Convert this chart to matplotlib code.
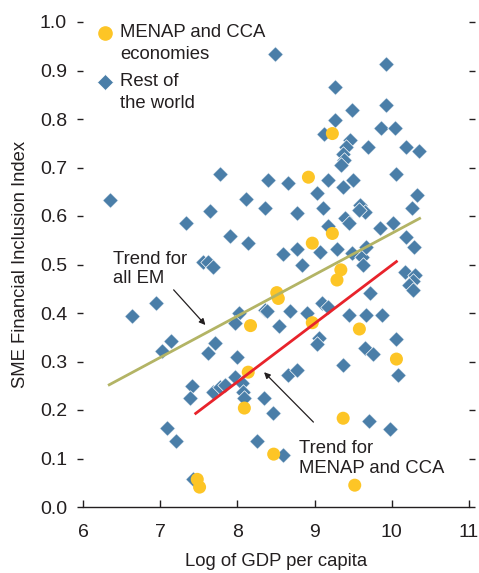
import matplotlib
matplotlib.use("Agg")
import matplotlib.pyplot as plt

# Rest of the world (log GDP per capita, SME financial inclusion index)
row_x = [8.49, 9.92, 9.26, 9.49, 9.92, 9.26, 9.12, 9.86, 10.04, 9.46,
         9.41, 9.37, 9.38, 9.34, 9.69, 10.18, 10.35, 7.77, 8.39, 8.66,
         9.18, 9.50, 9.37, 9.03, 10.06, 10.32, 6.35, 8.11, 7.65, 8.36,
         7.33, 7.90, 8.14, 7.56, 7.62, 7.69, 6.95, 6.64, 8.02, 7.97,
         8.36, 7.14, 7.02, 7.71, 7.62, 7.99, 8.77, 9.11, 9.59, 9.65,
         9.57, 10.26, 9.39, 9.44, 9.17, 9.85, 10.01, 10.19, 10.29, 8.59,
         8.77, 9.07, 9.29, 9.48, 9.61, 9.63, 9.67, 8.84, 10.17, 10.30,
         10.28, 10.22, 10.27, 9.72, 8.38, 8.68, 8.90, 9.09, 9.18, 9.44,
         9.67, 9.87, 8.54, 9.06, 9.03, 10.06, 9.65, 9.75, 9.37, 10.08,
         8.66, 8.77, 7.41, 7.39, 7.69, 7.77, 7.84, 7.97, 8.06, 8.07,
         8.09, 8.34, 8.46, 7.09, 7.21, 8.25, 7.42, 8.59, 9.70, 9.98]
row_y = [0.934, 0.913, 0.865, 0.818, 0.829, 0.797, 0.770, 0.781, 0.781, 0.757,
         0.742, 0.728, 0.715, 0.705, 0.743, 0.743, 0.733, 0.686, 0.674, 0.669,
         0.674, 0.675, 0.659, 0.647, 0.686, 0.643, 0.632, 0.636, 0.611, 0.616,
         0.585, 0.559, 0.544, 0.506, 0.506, 0.494, 0.421, 0.394, 0.401, 0.379,
         0.406, 0.342, 0.322, 0.338, 0.317, 0.310, 0.606, 0.616, 0.623, 0.609,
         0.612, 0.616, 0.595, 0.585, 0.579, 0.575, 0.585, 0.557, 0.537, 0.521,
         0.531, 0.526, 0.531, 0.523, 0.516, 0.499, 0.537, 0.499, 0.485, 0.478,
         0.465, 0.458, 0.447, 0.442, 0.405, 0.405, 0.399, 0.420, 0.413, 0.396,
         0.396, 0.396, 0.373, 0.348, 0.336, 0.346, 0.327, 0.315, 0.293, 0.272,
         0.272, 0.282, 0.249, 0.224, 0.238, 0.248, 0.252, 0.269, 0.255, 0.238,
         0.224, 0.224, 0.194, 0.162, 0.136, 0.136, 0.057, 0.107, 0.178, 0.161]

# MENAP and CCA economies
menap_x = [9.23, 8.92, 9.23, 8.97, 9.34, 9.29, 8.51, 8.53, 8.17, 8.97,
           9.58, 10.06, 8.14, 8.09, 9.37, 8.47, 7.48, 7.51, 9.52]
menap_y = [0.770, 0.680, 0.564, 0.544, 0.489, 0.468, 0.442, 0.430, 0.374, 0.380,
           0.367, 0.305, 0.278, 0.204, 0.183, 0.109, 0.057, 0.041, 0.045]

# trend line end points
trend_em_x = [6.34, 10.36]
trend_em_y = [0.252, 0.595]
trend_menap_x = [7.46, 10.06]
trend_menap_y = [0.193, 0.506]

blue = "#4a7ea8"
yellow = "#fdc526"
olive = "#b3b465"
red = "#e8232b"
ink = "#231f20"

plt.rcParams["font.family"] = ["Liberation Sans", "DejaVu Sans"]
plt.rcParams["font.size"] = 13.3

fig = plt.figure(figsize=(4.79, 5.73), dpi=100)
ax = fig.add_axes([83 / 479, 66 / 573, 386 / 479, 485 / 573])

ax.scatter(row_x, row_y, marker="D", s=62, color=blue, edgecolor="white",
           linewidth=0.5, zorder=2)
ax.scatter(menap_x, menap_y, marker="o", s=88, color=yellow, edgecolor="none",
           zorder=3)
ax.plot(trend_em_x, trend_em_y, color=olive, lw=2, zorder=4)
ax.plot(trend_menap_x, trend_menap_y, color=red, lw=2, zorder=4)

# annotations
ax.text(6.39, 0.453, "Trend for\nall EM", ha="left", va="bottom", color=ink,
        linespacing=1.2)
ax.annotate("", xy=(7.61, 0.371), xytext=(7.15, 0.452),
            arrowprops=dict(arrowstyle="-|>", color=ink, lw=0.9, mutation_scale=9))
ax.text(8.80, 0.062, "Trend for\nMENAP and CCA", ha="left", va="bottom", color=ink,
        linespacing=1.2)
ax.annotate("", xy=(8.32, 0.282), xytext=(9.01, 0.171),
            arrowprops=dict(arrowstyle="-|>", color=ink, lw=0.9, mutation_scale=9))

# legend, drawn by hand so the marker sits on the first line of each label
ax.plot([0.057], [0.977], marker="o", ls="", color=yellow, markersize=9.5,
        transform=ax.transAxes, clip_on=False)
ax.plot([0.057], [0.876], marker="D", ls="", color=blue, markersize=7.8,
        markeredgecolor="white", markeredgewidth=0.5,
        transform=ax.transAxes, clip_on=False)
ax.text(0.096, 0.995, "MENAP and CCA\neconomies", ha="left", va="top",
        color=ink, linespacing=1.36, transform=ax.transAxes)
ax.text(0.096, 0.894, "Rest of\nthe world", ha="left", va="top",
        color=ink, linespacing=1.36, transform=ax.transAxes)

ax.set_xlim(6, 11)
ax.set_ylim(0, 1.0)
ax.set_xticks([6, 7, 8, 9, 10, 11])
ax.set_yticks([i / 10 for i in range(11)])
ax.set_yticklabels(["0.0", "0.1", "0.2", "0.3", "0.4", "0.5", "0.6", "0.7",
                    "0.8", "0.9", "1.0"])

for side in ["left", "right", "top"]:
    ax.spines[side].set_visible(False)
ax.spines["bottom"].set_color(ink)
ax.spines["bottom"].set_linewidth(1.0)

ax.tick_params(axis="x", direction="in", length=5, width=1, colors=ink, pad=12,
               labelsize=14)
ax.tick_params(axis="y", direction="out", length=4.5, width=1, colors=ink, pad=7,
               right=True, labelsize=14)

ax.set_xlabel("Log of GDP per capita", color=ink, labelpad=9)
ax.set_ylabel("SME Financial Inclusion Index", color=ink, labelpad=8)

fig.savefig("out.png", dpi=100)
